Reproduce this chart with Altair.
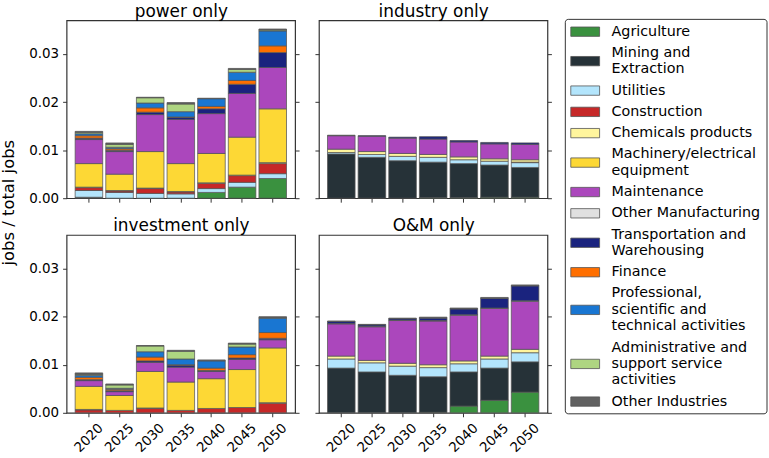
import altair as alt
import pandas as pd

years = ["2020", "2025", "2030", "2035", "2040", "2045", "2050"]

categories = [
    "Agriculture",
    "Mining and\nExtraction",
    "Utilities",
    "Construction",
    "Chemicals products",
    "Machinery/electrical\nequipment",
    "Maintenance",
    "Other Manufacturing",
    "Transportation and\nWarehousing",
    "Finance",
    "Professional,\nscientific and\ntechnical activities",
    "Administrative and\nsupport service\nactivities",
    "Other Industries",
]

colors = [
    "#3a913f", "#263238", "#b3e5fc", "#c62828", "#fff59d", "#fdd835", "#ab47bc",
    "#e0e0e0", "#1a237e", "#ff6f00", "#1976d2", "#aed581", "#616161",
]

panels = ["power only", "industry only", "investment only", "O&M only"]
y_title = "jobs / total jobs"

# values per category (same order as `categories`), per year 2020..2050
power_only = [
    [0, 0, 0, 0, 0.0012, 0.0023, 0.0041],
    [0.0002, 0, 0, 0, 0, 0, 0],
    [0.0014, 0.0012, 0.0010, 0.0009, 0.0008, 0.0010, 0.0010],
    [0.0006, 0.0003, 0.0010, 0.0004, 0.0011, 0.0014, 0.0021],
    [0.0001, 0.0001, 0.0001, 0.0001, 0.0001, 0.0001, 0.0002],
    [0.0049, 0.0034, 0.0076, 0.0058, 0.0061, 0.0079, 0.0112],
    [0.0050, 0.0047, 0.0077, 0.0092, 0.0083, 0.0091, 0.0086],
    [0, 0, 0, 0, 0, 0, 0],
    [0.0003, 0.0003, 0.0005, 0.0004, 0.0010, 0.0019, 0.0031],
    [0.0005, 0.0003, 0.0009, 0.0001, 0.0005, 0.0008, 0.0014],
    [0.0004, 0.0003, 0.0010, 0.0011, 0.0016, 0.0017, 0.0031],
    [0.0003, 0.0006, 0.0011, 0.0016, 0, 0.0006, 0.0002],
    [0.0002, 0.0003, 0.0001, 0.0003, 0.0001, 0.0002, 0.0002],
]

industry_only = [
    [0, 0, 0, 0.0001, 0.0001, 0.0002, 0.0002],
    [0.0092, 0.0085, 0.0078, 0.0074, 0.0071, 0.0067, 0.0062],
    [0.0003, 0.0006, 0.0009, 0.0010, 0.0008, 0.0008, 0.0010],
    [0, 0, 0, 0, 0, 0, 0.0001],
    [0.0007, 0.0006, 0.0006, 0.0006, 0.0006, 0.0005, 0.0005],
    [0, 0, 0, 0, 0, 0, 0],
    [0.0028, 0.0032, 0.0032, 0.0032, 0.0031, 0.0031, 0.0032],
    [0, 0, 0, 0, 0, 0, 0],
    [0, 0.0001, 0.0002, 0.0005, 0.0003, 0.0003, 0.0003],
    [0, 0, 0, 0, 0, 0, 0],
    [0, 0, 0, 0, 0, 0, 0],
    [0, 0, 0, 0, 0, 0, 0],
    [0.0001, 0, 0, 0, 0, 0, 0],
]

investment_only = [
    [0, 0, 0, 0, 0, 0, 0],
    [0, 0, 0, 0, 0, 0, 0],
    [0, 0, 0, 0, 0, 0, 0],
    [0.0006, 0.0005, 0.0009, 0.0005, 0.0009, 0.0011, 0.0020],
    [0.0001, 0, 0.0001, 0, 0, 0, 0.0001],
    [0.0048, 0.0031, 0.0076, 0.0059, 0.0062, 0.0079, 0.0114],
    [0.0012, 0.0008, 0.0019, 0.0031, 0.0015, 0.0021, 0.0017],
    [0, 0, 0, 0, 0, 0, 0],
    [0.0002, 0.0002, 0.0003, 0.0004, 0.0002, 0.0003, 0.0003],
    [0.0005, 0.0003, 0.0008, 0.0001, 0.0005, 0.0007, 0.0012],
    [0.0004, 0.0002, 0.0011, 0.0012, 0.0015, 0.0016, 0.0030],
    [0.0002, 0.0007, 0.0012, 0.0016, 0, 0.0006, 0.0001],
    [0.0003, 0.0002, 0.0001, 0.0002, 0.0002, 0.0002, 0.0002],
]

om_only = [
    [0, 0, 0, 0.0001, 0.0014, 0.0026, 0.0043],
    [0.0093, 0.0085, 0.0078, 0.0074, 0.0071, 0.0067, 0.0063],
    [0.0019, 0.0019, 0.0019, 0.0019, 0.0017, 0.0019, 0.0019],
    [0, 0, 0, 0, 0, 0, 0],
    [0.0006, 0.0005, 0.0006, 0.0006, 0.0006, 0.0006, 0.0007],
    [0, 0, 0, 0, 0, 0, 0],
    [0.0067, 0.0070, 0.0089, 0.0091, 0.0095, 0.0099, 0.0100],
    [0.0001, 0.0001, 0.0001, 0.0001, 0.0001, 0.0001, 0.0001],
    [0.0004, 0.0003, 0.0003, 0.0005, 0.0012, 0.0020, 0.0031],
    [0, 0, 0, 0, 0, 0, 0],
    [0, 0, 0, 0, 0, 0, 0],
    [0, 0, 0, 0, 0, 0, 0],
    [0.0001, 0.0001, 0.0001, 0.0002, 0.0002, 0.0002, 0.0002],
]

panel_values = [power_only, industry_only, investment_only, om_only]

FONT = "DejaVu Sans"
W, H = 230, 179
TICKS = [0, 0.01, 0.02, 0.03]
color_scale = alt.Scale(domain=categories, range=colors)


def frame(values):
    rows = []
    for ci, cat in enumerate(categories):
        for yi, yr in enumerate(years):
            v = values[ci][yi]
            if v > 0:
                rows.append({"year": yr, "category": cat, "idx": ci, "value": v})
    return pd.DataFrame(rows)


def make_panel(pi, left, bottom):
    df = frame(panel_values[pi])
    yscale = alt.Scale(domain=[0, 0.037], nice=False, zero=True)
    xscale = alt.Scale(domain=years, paddingInner=0.1, paddingOuter=0.28)
    x_axis = alt.Axis(
        title=None, labels=bottom, labelAngle=315, labelAlign="center",
        labelBaseline="middle", labelPadding=21, labelFontSize=13.5,
        labelOverlap=False, tickSize=4, domain=False,
    )
    y_axis = alt.Axis(
        title=None, labels=left, values=TICKS, format=".2f", tickSize=4,
        labelPadding=4, labelFontSize=13.5, grid=False, domain=False,
    )
    bars = alt.Chart(df).mark_bar(
        stroke="#555555", strokeWidth=1, strokeOpacity=0.75
    ).encode(
        x=alt.X("year:O", sort=years, scale=xscale, axis=x_axis),
        y=alt.Y("value:Q", stack="zero", scale=yscale, axis=y_axis),
        color=alt.Color("category:N", scale=color_scale, legend=None),
        order=alt.Order("idx:Q", sort="ascending"),
    )
    frame_axes = alt.Chart(df).mark_point(opacity=0).encode(
        x=alt.X("year:O", sort=years, scale=xscale,
                axis=alt.Axis(orient="top", labels=False, ticks=False, domain=False,
                              title=panels[pi], titleFontSize=17,
                              titleFontWeight="normal", titlePadding=0)),
        y=alt.Y("value:Q", scale=yscale,
                axis=alt.Axis(orient="right", labels=False, title=None,
                              values=TICKS, tickSize=4, grid=False, domain=False)),
    )
    return alt.layer(bars, frame_axes).resolve_axis(
        x="independent", y="independent"
    ).properties(width=W, height=H)


# ---- shared y-axis title (its own narrow view) ----
YT_W, YT_H = 15, 394
yt_rows = [{"label": y_title, "x": YT_W, "y": 183.5}]
ytx = alt.Scale(domain=[0, YT_W], range=[0, YT_W])
yty = alt.Scale(domain=[0, YT_H], range=[0, YT_H])
ytitle_view = alt.Chart(pd.DataFrame(yt_rows)).mark_text(
    angle=270, align="center", baseline="bottom", font=FONT, fontSize=16.5,
    color="black"
).encode(
    x=alt.X("x:Q", scale=ytx, axis=None),
    y=alt.Y("y:Q", scale=yty, axis=None),
    text="label:N",
).properties(width=YT_W, height=YT_H, view=alt.ViewBackground(strokeOpacity=0))

# ---- legend (drawn as its own small view) ----
LEG_W, LEG_VIEW_H = 204, 400
BOX_TOP, BOX_H = -1, 397
LINE_H, ROW_D, FIRST = 16.5, 21.4, 12.4
sym_rows, txt_rows = [], []
c = BOX_TOP + FIRST
prev_n = None
for i, cat in enumerate(categories):
    lines = cat.split("\n")
    n = len(lines)
    if prev_n is not None:
        c += ROW_D + (prev_n - 1) * LINE_H / 2 + (n - 1) * LINE_H / 2
    sym_rows.append({"category": cat, "x1": 6, "x2": 35, "y1": c - 4.7, "y2": c + 4.7})
    for k, ln in enumerate(lines):
        txt_rows.append({"label": ln, "x": 47, "y": c - (n - 1) * LINE_H / 2 + k * LINE_H})
    prev_n = n
box_rows = [{"x1": 0.5, "x2": LEG_W - 0.5, "y1": BOX_TOP, "y2": BOX_TOP + BOX_H}]

lx = alt.Scale(domain=[0, LEG_W], range=[0, LEG_W])
ly = alt.Scale(domain=[0, LEG_VIEW_H], range=[0, LEG_VIEW_H])
leg_box = alt.Chart(pd.DataFrame(box_rows)).mark_rect(
    fill="white", stroke="#333333", strokeWidth=1, cornerRadius=3
).encode(
    x=alt.X("x1:Q", scale=lx, axis=None), x2="x2:Q",
    y=alt.Y("y1:Q", scale=ly, axis=None), y2="y2:Q",
)
leg_sym = alt.Chart(pd.DataFrame(sym_rows)).mark_rect(
    stroke="#555555", strokeWidth=0.8
).encode(
    x=alt.X("x1:Q", scale=lx, axis=None), x2="x2:Q",
    y=alt.Y("y1:Q", scale=ly, axis=None), y2="y2:Q",
    color=alt.Color("category:N", scale=color_scale, legend=None),
)
leg_txt = alt.Chart(pd.DataFrame(txt_rows)).mark_text(
    align="left", baseline="middle", font=FONT, fontSize=14.4, color="black"
).encode(
    x=alt.X("x:Q", scale=lx, axis=None),
    y=alt.Y("y:Q", scale=ly, axis=None),
    text="label:N",
)
legend_view = alt.layer(leg_box, leg_sym, leg_txt).properties(
    width=LEG_W, height=LEG_VIEW_H,
    view=alt.ViewBackground(strokeOpacity=0),
)

top = alt.hconcat(make_panel(0, True, False), make_panel(1, False, False), spacing=12)
bot = alt.hconcat(make_panel(2, True, True), make_panel(3, False, True), spacing=12)
grid = alt.vconcat(top, bot, spacing=10)
left_part = alt.hconcat(ytitle_view, grid, spacing=10)

chart = alt.hconcat(left_part, legend_view, spacing=11.5).properties(
    padding={"left": 0, "top": 0, "right": 1, "bottom": 1}
).configure(
    font=FONT,
).configure_view(
    stroke="#333333", strokeWidth=1.2,
).configure_axis(
    labelFont=FONT, titleFont=FONT, labelColor="black", titleColor="black",
    tickColor="#333333",
)

chart.save("out.html", embed_options={"renderer": "svg", "actions": False})
